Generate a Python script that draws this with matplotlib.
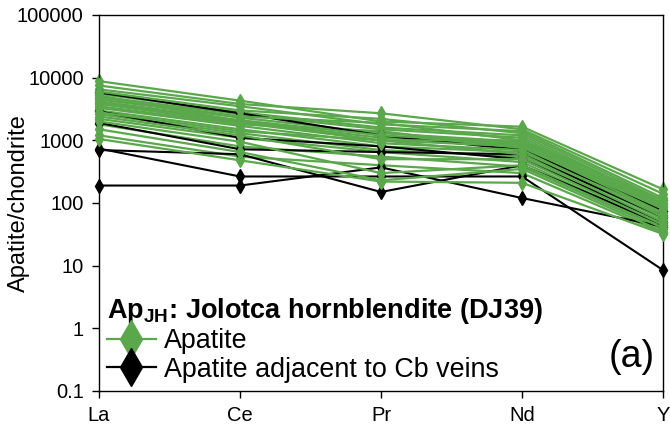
import matplotlib
matplotlib.use("Agg")
import matplotlib.pyplot as plt
from matplotlib.lines import Line2D
import numpy as np

plt.rcParams["font.family"] = ["Liberation Sans", "DejaVu Sans"]
plt.rcParams["mathtext.fontset"] = "custom"
plt.rcParams["mathtext.rm"] = "Liberation Sans"
plt.rcParams["mathtext.bf"] = "Liberation Sans:bold"

elements = ["La", "Ce", "Pr", "Nd", "Y"]
y_ticks = [0.1, 1, 10, 100, 1000, 10000, 100000]
y_tick_labels = ["0.1", "1", "10", "100", "1000", "10000", "100000"]

# chondrite-normalised REE+Y, apatite from the hornblendite
apatite = [
    [8800, 4300, 2000, 1650, 165],
    [7500, 3800, 2700, 1500, 140],
    [6500, 3500, 1800, 1400, 120],
    [6000, 3000, 2200, 1300, 110],
    [5500, 2800, 1600, 1200, 100],
    [5200, 2000, 1000, 1000, 110],
    [5000, 2600, 1500, 1100, 95],
    [4800, 2400, 1900, 1000, 90],
    [4500, 2300, 1300, 950, 85],
    [4200, 2100, 1200, 900, 80],
    [4000, 2000, 1100, 850, 75],
    [3800, 1900, 1000, 800, 70],
    [3500, 1800, 1400, 750, 65],
    [3300, 1700, 900, 700, 60],
    [3000, 1500, 800, 650, 55],
    [2800, 1400, 1000, 600, 50],
    [2600, 1300, 700, 550, 48],
    [2400, 1200, 500, 500, 45],
    [2200, 1100, 650, 450, 42],
    [2000, 950, 300, 400, 40],
    [1800, 800, 550, 380, 38],
    [1500, 650, 230, 350, 35],
    [1200, 550, 400, 300, 33],
    [1050, 480, 220, 210, 32],
]

# apatite adjacent to carbonate (Cb) veins
apatite_cb = [
    [5800, 2700, 1200, 700, 75],
    [2900, 1100, 800, 500, 50],
    [1900, 720, 650, 600, 60],
    [700, 600, 150, 400, 45],
    [740, 265, 265, 265, 8.5],
    [190, 190, 370, 120, 42],
]

GREEN = "#5aa84b"

fig = plt.figure(figsize=(6.7, 4.32), dpi=100)
ax = fig.add_axes([99 / 670, 41 / 432, 564 / 670, 376 / 432])

x = np.arange(len(elements))
# black lines sit among the green ones, partly hidden, partly on top
for i, row in enumerate(apatite):
    ax.plot(x, row, color=GREEN, lw=1.6, marker="d", ms=7, clip_on=False, zorder=2 + (i % 2) * 2)
for row in apatite_cb:
    ax.plot(x, row, color="black", lw=1.5, marker="d", ms=7, clip_on=False, zorder=3)

ax.set_yscale("log")
ax.set_ylim(0.1, 100000)
ax.set_xlim(0, len(elements) - 1)
ax.set_yticks(y_ticks)
ax.set_yticklabels(y_tick_labels)
ax.minorticks_off()
ax.set_xticks(x)
ax.set_xticklabels(elements)
ax.tick_params(axis="both", direction="out", length=5, width=1, labelsize=14.5, pad=6)
ax.set_ylabel("Apatite/chondrite", fontsize=17)
ax.yaxis.set_label_coords(-0.122, 0.5)
for spine in ax.spines.values():
    spine.set_linewidth(1)

handles = [
    Line2D([], [], color=GREEN, lw=1.6, marker="d", ms=19),
    Line2D([], [], color="black", lw=1.6, marker="d", ms=19),
]
leg = ax.legend(
    handles,
    ["Apatite", "Apatite adjacent to Cb veins"],
    title=r"Ap$_{\mathbf{JH}}$: Jolotca hornblendite (DJ39)",
    title_fontproperties={"size": 19.5, "weight": "bold"},
    alignment="left",
    loc="lower left",
    bbox_to_anchor=(0.0, 0.0),
    fontsize=19.4,
    frameon=False,
    handlelength=1.8,
    handletextpad=0.3,
    labelspacing=0.1,
    borderpad=0.1,
    borderaxespad=0.2,
)
ax.text(0.985, 0.09, "(a)", transform=ax.transAxes, fontsize=27, ha="right", va="center")

fig.savefig("out.png", dpi=100)
